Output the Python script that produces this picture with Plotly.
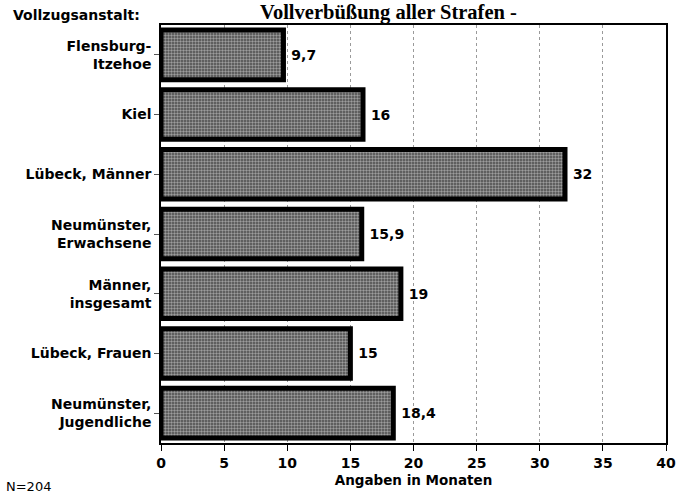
import plotly.graph_objects as go

categories = ["Flensburg-<br>Itzehoe", "Kiel", "Lübeck, Männer", "Neumünster,<br>Erwachsene",
              "Männer,<br>insgesamt", "Lübeck, Frauen", "Neumünster,<br>Jugendliche"]
values = [9.7, 16, 32, 15.9, 19, 15, 18.4]
labels = ["9,7", "16", "32", "15,9", "19", "15", "18,4"]
x_ticks = [0, 5, 10, 15, 20, 25, 30, 35, 40]

SANS = "DejaVu Sans, Liberation Sans, Arial"

fig = go.Figure()
fig.add_trace(go.Bar(
    y=categories, x=values, orientation="h",
    text=["<b> " + t + "</b>" for t in labels], textposition="outside", cliponaxis=False,
    textfont=dict(family=SANS, size=14, color="black"),
    marker=dict(
        color="#7a7a7a",
        line=dict(color="black", width=5),
        pattern=dict(shape=".", fgcolor="#f0f0f0", bgcolor="#4a4a4a", size=3, solidity=0.5),
    ),
))

L, R, T, B = 161, 14, 25, 52
W, H = 680, 495

fig.update_layout(
    width=W, height=H,
    margin=dict(l=L, r=R, t=T, b=B, autoexpand=False),
    paper_bgcolor="white", plot_bgcolor="white",
    showlegend=False, bargap=0.17,
    font=dict(family=SANS, color="black"),
    xaxis=dict(
        range=[0, 40], tickvals=x_ticks, ticks="outside", ticklen=6, tickcolor="black",
        showline=True, linecolor="black", linewidth=1.5, mirror=True, automargin=False,
        showgrid=True, gridcolor="#9a9a9a", griddash="dot", gridwidth=1,
        tickfont=dict(size=14, family=SANS, color="black", weight="bold"),
        title=dict(text="<b>Angaben in Monaten</b>", standoff=6,
                   font=dict(size=13.5, family=SANS, color="black")),
        zeroline=False,
    ),
    yaxis=dict(
        autorange="reversed", ticks="outside", ticklen=5, tickcolor="#555", automargin=False,
        showline=True, linecolor="black", linewidth=1.5, mirror=True,
        tickfont=dict(size=14, family=SANS, color="black", weight="bold"),
    ),
)

pw = W - L - R
ph = H - T - B


def px(x, y):
    return (x - L) / pw, (H - y - B) / ph


anns = [
    ("<b>Vollverbüßung aller Strafen -</b>", 388, 12, "center",
     dict(family="Liberation Serif, DejaVu Serif", size=20.5, color="black")),
    ("<b>Vollzugsanstalt:</b>", 11, 15, "left",
     dict(size=14, family=SANS, color="black")),
    ("N=204", 4, 486, "left",
     dict(size=13, family=SANS, color="black")),
]
for text, x, y, anchor, font in anns:
    ax, ay = px(x, y)
    fig.add_annotation(text=text, x=ax, y=ay, xref="paper", yref="paper", xanchor=anchor,
                       yanchor="middle", showarrow=False, font=font)

fig.write_html("out.html", config={"displayModeBar": False},
               post_script="document.body.style.margin='0';document.body.style.overflow='hidden';")
